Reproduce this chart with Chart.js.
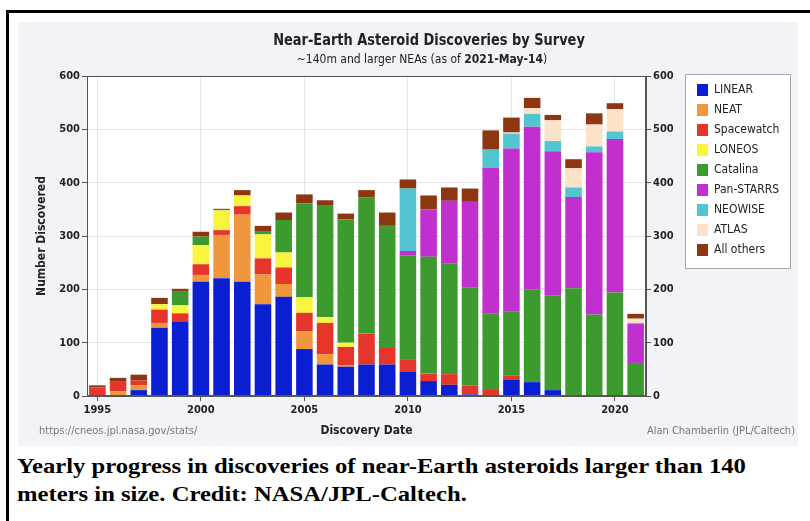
<!DOCTYPE html>
<html lang="en">
<head>
<meta charset="UTF-8">
<title>Near-Earth Asteroid Discoveries by Survey</title>
<script src="https://cdn.jsdelivr.net/npm/chart.js"></script>
<style>
    body { margin: 0; background: #fff; overflow: hidden; font-family: 'DejaVu Sans Condensed', 'DejaVu Sans', sans-serif; }
    #frame { position: absolute; left: 6px; top: 10px; width: 900px; height: 600px; border-left: 3px solid #000; border-top: 3px solid #000; }
    #panel { position: absolute; left: 18px; top: 22px; width: 780px; height: 424px; background: #f2f3f7; }
    .chart-box { position: absolute; left: 0; top: 0; width: 780px; height: 424px; }
    .title { position: absolute; left: 0; width: 822px; top: 8px; text-align: center; font-weight: bold; font-size: 16px; color: #222; transform: scaleX(0.9); transform-origin: 411px 0; }
    .sub { position: absolute; left: 0; width: 808px; top: 30px; text-align: center; font-size: 12px; color: #222; }
    .src { position: absolute; left: 21px; top: 402px; font-size: 11px; color: #777; }
    .credit { position: absolute; right: 3px; top: 402px; font-size: 11px; color: #777; }
    .caption { position: absolute; left: 17px; top: 452px; width: 680px; font-family: 'Liberation Serif', serif; font-weight: bold; font-size: 22px; line-height: 28px; color: #000; transform: scaleX(1.12); transform-origin: 0 0; }
</style>
</head>
<body>
<div id="frame"></div>
<div id="panel">
    <div class="chart-box"><canvas id="neaChart"></canvas></div>
    <div class="title">Near-Earth Asteroid Discoveries by Survey</div>
    <div class="sub">~140m and larger NEAs (as of <b>2021-May-14</b>)</div>
    <div class="src">https://cneos.jpl.nasa.gov/stats/</div>
    <div class="credit">Alan Chamberlin (JPL/Caltech)</div>
</div>
<div class="caption">Yearly progress in discoveries of near-Earth asteroids larger than 140 meters in size. Credit: NASA/JPL-Caltech.</div>

<script>
    const years = ['1995', '1996', '1997', '1998', '1999', '2000', '2001', '2002', '2003', '2004',
        '2005', '2006', '2007', '2008', '2009', '2010', '2011', '2012', '2013', '2014',
        '2015', '2016', '2017', '2018', '2019', '2020', '2021'];

    const linear     = [0, 0, 11, 128, 139, 214, 221, 214, 172, 186, 88, 59, 55, 59, 59, 46, 28, 21, 3, 0, 30, 26, 11, 0, 0, 0, 0];
    const neat       = [0, 9, 9, 9, 0, 13, 81, 126, 56, 24, 33, 19, 2, 0, 0, 0, 0, 0, 0, 0, 0, 0, 0, 0, 0, 0, 0];
    const spacewatch = [16, 19, 9, 25, 16, 20, 9, 16, 30, 31, 35, 59, 35, 58, 31, 23, 14, 20, 16, 13, 8, 0, 0, 0, 0, 0, 0];
    const loneos     = [0, 0, 0, 10, 15, 36, 37, 20, 45, 28, 29, 11, 8, 0, 0, 0, 0, 0, 0, 0, 0, 0, 0, 0, 0, 0, 0];
    const catalina   = [0, 0, 0, 0, 27, 16, 1, 0, 5, 61, 176, 210, 231, 255, 229, 194, 219, 208, 184, 141, 120, 174, 178, 202, 153, 194, 62];
    const panstarrs  = [0, 0, 0, 0, 0, 0, 0, 0, 0, 0, 0, 0, 0, 0, 0, 9, 89, 117, 161, 274, 306, 305, 270, 171, 304, 288, 73];
    const neowise    = [0, 0, 0, 0, 0, 0, 0, 0, 0, 0, 0, 0, 0, 0, 0, 117, 0, 0, 0, 34, 28, 24, 19, 18, 11, 14, 2];
    const atlas      = [0, 0, 0, 0, 0, 0, 0, 0, 0, 0, 0, 0, 0, 0, 0, 0, 0, 0, 0, 0, 2, 11, 39, 36, 41, 42, 8];
    const others     = [4, 6, 11, 12, 4, 9, 2, 10, 11, 14, 17, 9, 11, 14, 25, 17, 26, 25, 25, 36, 28, 19, 10, 17, 21, 11, 9];

    const yTicks = [0, 100, 200, 300, 400, 500, 600];

    Chart.defaults.font.family = "'DejaVu Sans Condensed', 'DejaVu Sans', sans-serif";
    Chart.defaults.color = '#222';

    const faint = '#e4e5ea';
    const axisDark = '#555';
    const everyFifth = (c) => (Number(years[c.index]) % 5 === 0 ? faint : 'transparent');
    const everyFifthTick = (c) => (Number(years[c.index]) % 5 === 0 ? axisDark : 'transparent');

    // white plot area, bordered legend box and frame round the plot
    const plotFrame = {
        id: 'plotFrame',
        beforeDraw(chart) {
            const { ctx, chartArea: a, legend } = chart;
            ctx.save();
            ctx.fillStyle = '#fff';
            ctx.fillRect(a.left, a.top, a.width, a.height);
            const n = legend.legendItems.length;
            const top = legend.top - 2;
            const bottom = legend.top + 8 + n * 20 + 4;
            ctx.fillRect(legend.left - 4, top, 106, bottom - top);
            ctx.strokeStyle = '#a8a8a8';
            ctx.lineWidth = 1;
            ctx.strokeRect(legend.left - 3.5, top + 0.5, 105, bottom - top);
            ctx.restore();
        },
        afterDatasetsDraw(chart) {
            const { ctx, chartArea: a } = chart;
            ctx.save();
            ctx.strokeStyle = '#555';
            ctx.lineWidth = 1;
            ctx.strokeRect(a.left + 0.5, a.top + 0.5, a.width - 1, a.height - 1);
            ctx.restore();
        }
    };

    const ctx = document.getElementById('neaChart').getContext('2d');
    new Chart(ctx, {
        type: 'bar',
        data: {
            labels: years,
            datasets: [
                { label: 'LINEAR', data: linear, backgroundColor: '#0a1ed2' },
                { label: 'NEAT', data: neat, backgroundColor: '#f0963c' },
                { label: 'Spacewatch', data: spacewatch, backgroundColor: '#e6352b' },
                { label: 'LONEOS', data: loneos, backgroundColor: '#f9f53e' },
                { label: 'Catalina', data: catalina, backgroundColor: '#3d9a2e' },
                { label: 'Pan-STARRS', data: panstarrs, backgroundColor: '#c12fcf' },
                { label: 'NEOWISE', data: neowise, backgroundColor: '#52c5d0' },
                { label: 'ATLAS', data: atlas, backgroundColor: '#fbe2c9' },
                { label: 'All others', data: others, backgroundColor: '#8c3712' }
            ]
        },
        options: {
            responsive: true,
            maintainAspectRatio: false,
            animation: false,
            datasets: { bar: { barPercentage: 0.8, categoryPercentage: 1.0 } },
            layout: { padding: { top: 54, left: 10, right: 10, bottom: 0 } },
            plugins: {
                legend: {
                    position: 'right',
                    align: 'start',
                    maxWidth: 99,
                    labels: { boxWidth: 11, boxHeight: 12, padding: 8, color: '#222', font: { size: 12 } }
                },
                tooltip: { enabled: false }
            },
            scales: {
                x: {
                    stacked: true,
                    grid: { offset: false, color: everyFifth, tickColor: everyFifthTick, tickLength: 5 },
                    border: { color: axisDark },
                    ticks: {
                        autoSkip: false,
                        maxRotation: 0,
                        padding: 3,
                        font: { size: 11, weight: 'bold' },
                        callback: (v, i) => (Number(years[i]) % 5 === 0 ? years[i] : '')
                    },
                    title: { display: true, text: 'Discovery Date', padding: { top: 2, bottom: 8 }, font: { size: 12, weight: 'bold' } },
                    afterFit: (s) => { s.height = 50; }
                },
                y: {
                    stacked: true,
                    min: 0,
                    max: 600,
                    afterBuildTicks: (s) => { s.ticks = yTicks.map(v => ({ value: v })); },
                    grid: { color: faint, tickColor: axisDark, tickLength: 5 },
                    border: { color: axisDark },
                    ticks: { padding: 2, font: { size: 11, weight: 'bold' } },
                    title: { display: true, text: 'Number Discovered', padding: { top: 7, bottom: 4 }, font: { size: 12, weight: 'bold' } },
                    afterFit: (s) => { s.width = 59; }
                },
                y2: {
                    position: 'right',
                    min: 0,
                    max: 600,
                    afterBuildTicks: (s) => { s.ticks = yTicks.map(v => ({ value: v })); },
                    grid: { drawOnChartArea: false, tickColor: axisDark, tickLength: 5 },
                    border: { color: axisDark },
                    ticks: { padding: 2, font: { size: 11, weight: 'bold' } },
                    afterFit: (s) => { s.width = 43; }
                }
            }
        },
        plugins: [plotFrame]
    });
</script>
</body>
</html>
